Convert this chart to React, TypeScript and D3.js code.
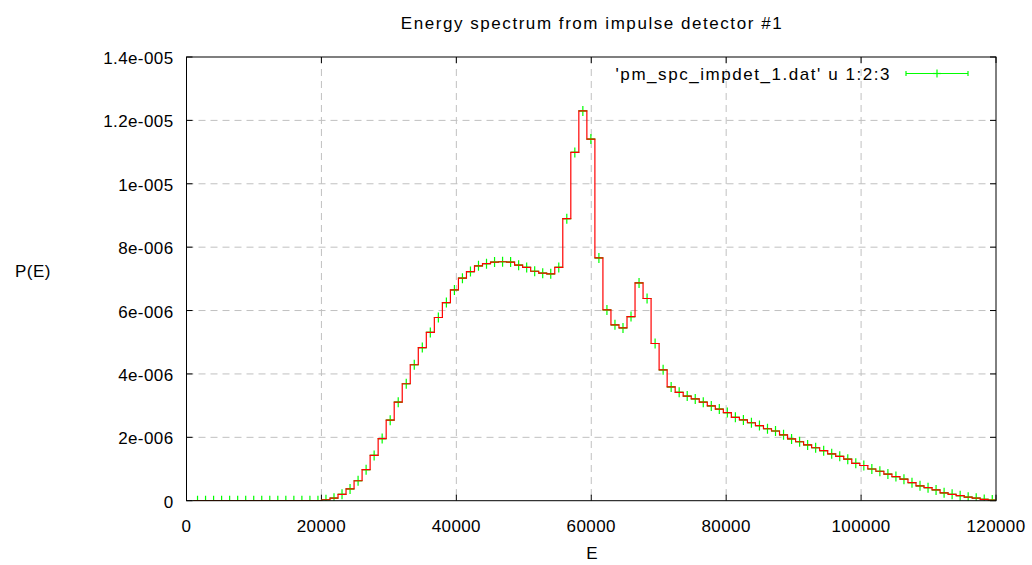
import React from "react";
import * as d3 from "d3";

const energies = [
  1635, 2825, 4015, 5205, 6395, 7585, 8775, 9965, 11155, 12345, 13535, 14725, 15915, 17105, 18295, 19485,
  20675, 21865, 23055, 24245, 25435, 26625, 27815, 29005, 30195, 31385, 32575, 33765, 34955, 36145, 37335,
  38525, 39715, 40905, 42095, 43285, 44475, 45665, 46855, 48045, 49235, 50425, 51615, 52805, 53995, 55185,
  56375, 57565, 58755, 59945, 61135, 62325, 63515, 64705, 65895, 67085, 68275, 69465, 70655, 71845, 73035,
  74225, 75415, 76605, 77795, 78985, 80175, 81365, 82555, 83745, 84935, 86125, 87315, 88505, 89695, 90885,
  92075, 93265, 94455, 95645, 96835, 98025, 99215, 100405, 101595, 102785, 103975, 105165, 106355, 107545,
  108735, 109925, 111115, 112305, 113495, 114685, 115875, 117065, 118255, 119445,
];

// P(E) in units of 1e-6
const probMicro = [
  0, 0, 0, 0, 0, 0, 0, 0, 0, 0, 0, 0, 0, 0, 0, 0,
  0.03, 0.08, 0.2, 0.37, 0.63, 0.98, 1.43, 1.96, 2.54, 3.11, 3.69, 4.29, 4.83, 5.31, 5.78,
  6.25, 6.65, 7.02, 7.23, 7.41, 7.48, 7.53, 7.54, 7.53, 7.43, 7.36, 7.24, 7.18, 7.16, 7.36,
  8.9, 10.99, 12.3, 11.41, 7.66, 6.02, 5.55, 5.45, 5.81, 6.87, 6.38, 4.96, 4.13, 3.59, 3.42,
  3.3, 3.21, 3.11, 2.99, 2.89, 2.78, 2.63, 2.55, 2.46, 2.37, 2.27, 2.2, 2.08, 1.95, 1.86,
  1.76, 1.67, 1.58, 1.48, 1.4, 1.31, 1.18, 1.11, 1.0, 0.93, 0.84, 0.76, 0.68, 0.57, 0.47,
  0.41, 0.34, 0.25, 0.2, 0.16, 0.11, 0.08, 0.04, 0.02,
];

const xDelta = 595;

const xTicks = [0, 20000, 40000, 60000, 80000, 100000, 120000];
const xTickLabels = ["0", "20000", "40000", "60000", "80000", "100000", "120000"];
const yTicks = [0, 2e-6, 4e-6, 6e-6, 8e-6, 1e-5, 1.2e-5, 1.4e-5];
const yTickLabels = ["0", "2e-006", "4e-006", "6e-006", "8e-006", "1e-005", "1.2e-005", "1.4e-005"];

const title = "Energy spectrum from impulse detector #1";
const xLabel = "E";
const yLabel = "P(E)";
const legendLabel = "'pm_spc_impdet_1.dat' u 1:2:3";

export default function App() {
  const W = 1032, H = 565;
  const left = 186.5, right = 996, top = 57, bottom = 500.7;
  const x = d3.scaleLinear().domain([0, 120000]).range([left, right]);
  const y = d3.scaleLinear().domain([0, 1.4e-5]).range([bottom, top]);
  const font = "'Liberation Sans', Arial, Helvetica, sans-serif";
  const fs = 17;
  const lsText = 1.55;
  const lsNum = 0.4;

  const vals = probMicro.map((v) => v * 1e-6);
  const n = energies.length;
  const stepPts: [number, number][] = [];
  for (let i = 0; i < n; i++) {
    const l = i === 0 ? energies[0] - (energies[1] - energies[0]) / 2 : (energies[i - 1] + energies[i]) / 2;
    const r = i === n - 1 ? energies[n - 1] + (energies[n - 1] - energies[n - 2]) / 2 : (energies[i] + energies[i + 1]) / 2;
    stepPts.push([l, vals[i]]);
    stepPts.push([r, vals[i]]);
  }
  const line = d3.line<[number, number]>().x((d) => x(d[0])).y((d) => y(d[1]));

  const green = "#00ff00";
  const red = "#ff0000";
  const tick = 6;

  return (
    <svg width={W} height={H} style={{ position: "absolute", left: 0, top: 0, background: "#fff" }} fontFamily={font}>
      <rect x={0} y={0} width={W} height={H} fill="#fff" />
      <defs>
        <clipPath id="plotclip">
          <rect x={left} y={top} width={right - left} height={bottom - top} />
        </clipPath>
      </defs>
      {/* grid */}
      {xTicks.slice(1, -1).map((t) => (
        <line key={"gx" + t} x1={x(t)} x2={x(t)} y1={top} y2={bottom} stroke="#c0c0c0" strokeDasharray="7,5" />
      ))}
      {yTicks.slice(1, -1).map((t) => (
        <line key={"gy" + t} x1={left} x2={right} y1={y(t)} y2={y(t)} stroke="#c0c0c0" strokeDasharray="7,5" />
      ))}
      {/* ticks */}
      {xTicks.map((t) => (
        <g key={"tx" + t}>
          <line x1={x(t)} x2={x(t)} y1={bottom} y2={bottom - tick} stroke="#000" />
          <line x1={x(t)} x2={x(t)} y1={top} y2={top + tick} stroke="#000" />
        </g>
      ))}
      {yTicks.map((t) => (
        <g key={"ty" + t}>
          <line x1={left} x2={left + tick} y1={y(t)} y2={y(t)} stroke="#000" />
          <line x1={right} x2={right - tick} y1={y(t)} y2={y(t)} stroke="#000" />
        </g>
      ))}
      {/* data */}
      <g clipPath="url(#plotclip)">
        {energies.map((e, i) => (
          <g key={"eb" + i} stroke={green} strokeWidth={1.2}>
            <line x1={x(e - xDelta)} x2={x(e + xDelta)} y1={y(vals[i])} y2={y(vals[i])} />
            <line x1={x(e)} x2={x(e)} y1={y(vals[i]) - 5} y2={y(vals[i]) + 5} />
            <line x1={x(e) - 4.5} x2={x(e) + 4.5} y1={y(vals[i])} y2={y(vals[i])} />
          </g>
        ))}
        <path d={line(stepPts) || ""} fill="none" stroke={red} strokeWidth={1.2} />
      </g>
      {/* border */}
      <rect x={left} y={top} width={right - left} height={bottom - top} fill="none" stroke="#000" />
      {/* tick labels */}
      {xTicks.map((t, i) => (
        <text key={"lx" + t} x={x(t)} y={bottom + 31} textAnchor="middle" fontSize={fs} letterSpacing={lsNum} fill="#000">
          {xTickLabels[i]}
        </text>
      ))}
      {yTicks.map((t, i) => (
        <text key={"ly" + t} x={left - 13} y={y(t) + 7} textAnchor="end" fontSize={fs} letterSpacing={lsNum} fill="#000">
          {yTickLabels[i]}
        </text>
      ))}
      {/* labels */}
      <text x={592} y={29} textAnchor="middle" fontSize={fs} letterSpacing={lsText} fill="#000">{title}</text>
      <text x={592} y={559} textAnchor="middle" fontSize={fs} fill="#000">{xLabel}</text>
      <text x={33} y={277} textAnchor="middle" fontSize={fs} letterSpacing={0.5} fill="#000">{yLabel}</text>
      {/* legend */}
      <text x={891} y={80} textAnchor="end" fontSize={fs} letterSpacing={lsText} fill="#000">{legendLabel}</text>
      <g stroke={green} strokeWidth={1.2}>
        <line x1={906} x2={968} y1={73.5} y2={73.5} />
        <line x1={906} x2={906} y1={71} y2={76} />
        <line x1={968} x2={968} y1={71} y2={76} />
        <line x1={937} x2={937} y1={69.5} y2={77.5} />
        <line x1={933} x2={941} y1={73.5} y2={73.5} />
      </g>
    </svg>
  );
}
